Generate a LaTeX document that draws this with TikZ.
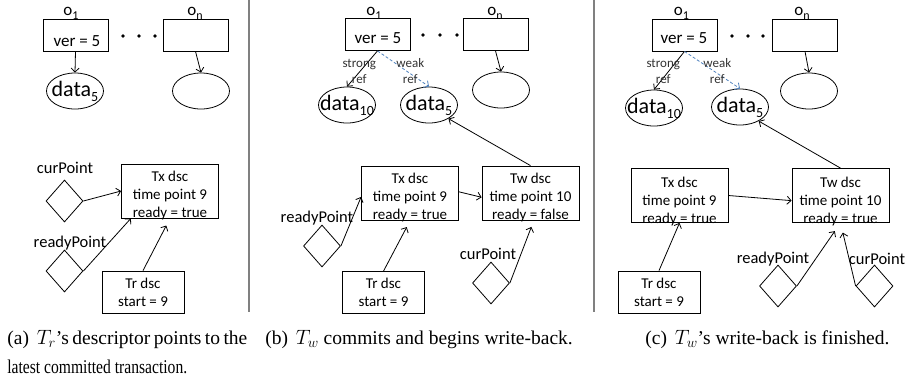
\documentclass[tikz,border=0pt]{standalone}
\usepackage{fontspec}
\setmainfont{Liberation Serif}
\newfontfamily\figfont{Carlito}
\usetikzlibrary{shapes.geometric,shapes.misc,arrows.meta}

\definecolor{refblue}{RGB}{79,129,189}
\definecolor{rulegray}{RGB}{128,128,128}

% data_k inside an ellipse, not widening it
\newcommand{\datatext}[1]{\makebox[0pt]{\fontsize{22}{22}\selectfont data\raisebox{-5pt}{\fontsize{14}{14}\selectfont #1}}}
% o_1 ... o_n
\newcommand{\osub}[1]{\raisebox{-4pt}{\fontsize{12}{12}\selectfont #1}}

\begin{document}
\begin{tikzpicture}[x=1pt,y=-1pt,line width=0.8pt,
    obj/.style={draw, chamfered rectangle, chamfered rectangle corners=north east,
        chamfered rectangle xsep=5pt, minimum width=65pt, minimum height=32pt, inner sep=0pt},
    vertext/.style={font=\figfont\fontsize{17}{17}\selectfont},
    oname/.style={font=\figfont\fontsize{17}{17}\selectfont, anchor=base, inner sep=0pt},
    datael/.style={draw, ellipse, minimum width=57pt, minimum height=36pt, inner sep=0pt, font=\figfont},
    dsc/.style={draw, rectangle, minimum width=97pt, minimum height=54pt, inner sep=0pt},
    dsctext/.style={align=center, inner sep=0pt, font=\figfont\fontsize{15}{18}\selectfont},
    trbox/.style={draw, rectangle, align=center, minimum width=82pt, minimum height=42pt,
        inner sep=0pt, font=\figfont\fontsize{15}{18}\selectfont},
    ptr/.style={draw, diamond, minimum width=37pt, minimum height=42pt, inner sep=0pt},
    ptrlbl/.style={inner sep=0pt, font=\figfont\fontsize{16.5}{18}\selectfont},
    reflbl/.style={align=center, inner sep=0pt, text=black!80, font=\figfont\fontsize{13}{16}\selectfont},
    arr/.style={-{Straight Barb[length=4pt,width=8pt]}},
    weakarr/.style={arr, refblue, dash pattern=on 3pt off 2pt},
    divider/.style={rulegray, line width=1.3pt},
    captext/.style={anchor=base west, inner sep=0pt, font=\fontsize{19.5}{22}\selectfont}]
\useasboundingbox (0,0) rectangle (907,381);

% dividers
\draw[divider] (249,0) -- (249,312);
\draw[divider] (594,0) -- (594,312);

% (a)
\node[obj] (oa1) at (75.5,35) {};
\node[vertext] (vera) at (77,41) {ver = 5};
\node[oname] (oa1name) at (71,15) {o\osub{1}};
\node[obj] (oan) at (195.5,35) {};
\node[oname] (oanname) at (195,15) {o\osub{n}};
\foreach \x in {123,139,155} \fill (\x,36) circle (1.8pt);
\node[datael] (da5) at (75,91) {\datatext{5}};
\node[datael] (dan) at (201,91) {};
\draw[arr] (oa1.south) -- (da5.north);
\draw[arr] (oan.south) -- (dan.north);

\node[dsc] (txa) at (170,191) {};
\node[dsctext] (txatext) at (170,195) {Tx dsc\\time point 9\\ready = true};
\node[ptr] (cpa) at (64.5,201) {};
\node[ptrlbl] (cpalbl) at (65,168) {curPoint};
\node[ptr] (rpa) at (64.5,271) {};
\node[ptrlbl] (rpalbl) at (70,243) {readyPoint};
\node[trbox] (tra) at (143,292) {Tr dsc\\start = 9};
\draw[arr] (cpa.east) -- (txa.west);
\draw[arr] (rpa.east) -- (txa.215);
\draw[arr, shorten >=8pt] (tra.north) -- (txa.south);

% (b)
\node[obj] (ob1) at (377.5,34.5) {};
\node[vertext] (verb) at (378,38) {ver = 5};
\node[oname] (ob1name) at (374,15) {o\osub{1}};
\node[obj] (obn) at (495.5,34.5) {};
\node[oname] (obnname) at (495,15) {o\osub{n}};
\foreach \x in {423,440,457} \fill (\x,35) circle (1.8pt);
\node[datael] (db10) at (347,105) {\datatext{10}};
\node[datael] (db5) at (429,105) {\datatext{5}};
\node[datael] (dbn) at (501,90) {};
\draw[arr] (ob1.south) -- (db10.north)
    node[reflbl, midway, xshift=-3pt, yshift=-2.5pt] (strongb) {strong\\ref};
\draw[weakarr] (ob1.south) -- (db5.north)
    node[reflbl, midway, xshift=7pt, yshift=-2.5pt] (weakb) {weak\\ref};
\draw[arr] (obn.south) -- (dbn.north);

\node[dsc] (txb) at (410,193.5) {};
\node[dsctext] (txbtext) at (410,197) {Tx dsc\\time point 9\\ready = true};
\node[dsc] (twb) at (530.5,193) {};
\node[dsctext] (twbtext) at (530.5,197) {Tw dsc\\time point 10\\ready = false};
\draw[arr] (txb.2) -- (twb.185);
\draw[arr] (twb.north) -- (db5.325);
\node[ptr] (rpb) at (322,246) {};
\node[ptrlbl] (rpblbl) at (317,218) {readyPoint};
\draw[arr] (rpb.east) -- (txb.184);
\node[trbox] (trb) at (383.5,292.5) {Tr dsc\\start = 9};
\draw[arr, shorten >=7pt] (trb.north) -- (txb.south);
\node[ptr] (cpb) at (491,283) {};
\node[ptrlbl] (cpblbl) at (488,254) {curPoint};
\draw[arr, shorten >=7pt] (cpb.east) -- (twb.277);

% (c)
\node[obj] (oc1) at (684.5,35) {};
\node[vertext] (verc) at (684,38) {ver = 5};
\node[oname] (oc1name) at (681.5,15) {o\osub{1}};
\node[obj] (ocn) at (805,35) {};
\node[oname] (ocnname) at (802,15) {o\osub{n}};
\foreach \x in {732,748,763} \fill (\x,36) circle (1.8pt);
\node[datael] (dc10) at (654,108) {\datatext{10}};
\node[datael] (dc5) at (740,107) {\datatext{5}};
\node[datael] (dcn) at (809,91) {};
\draw[arr] (oc1.south) -- (dc10.north)
    node[reflbl, midway, xshift=-6pt, yshift=-0.5pt] (strongc) {strong\\ref};
\draw[weakarr] (oc1.south) -- (dc5.north)
    node[reflbl, midway, xshift=5pt, yshift=-1pt] (weakc) {weak\\ref};
\draw[arr] (ocn.south) -- (dcn.north);

\node[dsc] (txc) at (679.5,195.5) {};
\node[dsctext] (txctext) at (679.5,201) {Tx dsc\\time point 9\\ready = true};
\node[dsc] (twc) at (840.5,195.5) {};
\node[dsctext] (twctext) at (840.5,201) {Tw dsc\\time point 10\\ready = true};
\draw[arr] (txc.east) -- (twc.186);
\draw[arr] (twc.north) -- (dc5.323);
\node[trbox] (trc) at (659,292) {Tr dsc\\start = 9};
\draw[arr] (trc.north) -- (txc.south);
\node[ptr] (rpc) at (778,286) {};
\node[ptrlbl] (rpclbl) at (773,259) {readyPoint};
\node[ptr] (cpc) at (874.5,286) {};
\node[ptrlbl] (cpclbl) at (877,259) {curPoint};
\draw[arr, shorten >=10pt] (rpc.east) -- (twc.south);
\draw[arr, shorten >=10pt] (cpc.west) -- (twc.south);

% captions
\node[captext] (capa1) at (7,344) {\makebox[240pt][s]{(a)\hspace{0.4em}$T_r$'s descriptor points to the}};
\node[captext] (capa2) at (7,373) {\scalebox{0.8}[1]{latest committed transaction.}};
\node[captext] (capb) at (265,344) {(b)\hspace{0.4em}$T_w$ commits and begins write-back.};
\node[captext] (capc) at (645,344) {(c)\hspace{0.4em}$T_w$'s write-back is finished.};
\end{tikzpicture}
\end{document}
